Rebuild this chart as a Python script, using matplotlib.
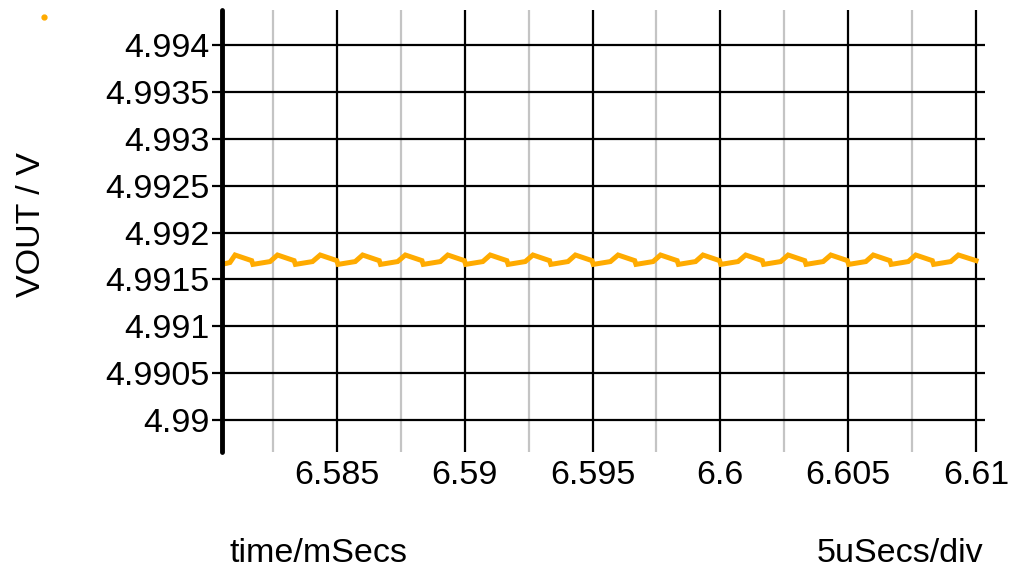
import matplotlib
matplotlib.use("Agg")
import matplotlib.pyplot as plt
from matplotlib.lines import Line2D
from matplotlib.transforms import Bbox, TransformedBbox

plt.rcParams['font.family'] = ['Liberation Sans', 'DejaVu Sans']

# VOUT ripple, vertices (time in ms, volts)
time_ms = [
    6.58051, 6.58082,
    6.58102, 6.58167, 6.58172, 6.58239,
    6.58268, 6.58333, 6.58338, 6.58405,
    6.58435, 6.58500, 6.58505, 6.58572,
    6.58601, 6.58666, 6.58671, 6.58738,
    6.58768, 6.58833, 6.58838, 6.58905,
    6.58934, 6.58999, 6.59004, 6.59071,
    6.59100, 6.59165, 6.59170, 6.59237,
    6.59267, 6.59332, 6.59337, 6.59404,
    6.59433, 6.59498, 6.59503, 6.59570,
    6.59600, 6.59665, 6.59670, 6.59737,
    6.59766, 6.59831, 6.59836, 6.59903,
    6.59932, 6.59997, 6.60002, 6.60069,
    6.60099, 6.60164, 6.60169, 6.60236,
    6.60265, 6.60330, 6.60335, 6.60402,
    6.60432, 6.60497, 6.60502, 6.60569,
    6.60598, 6.60663, 6.60668, 6.60735,
    6.60764, 6.60829, 6.60834, 6.60901,
    6.60931, 6.61000,
]
vout = [
    4.99166, 4.99168,
    4.99176, 4.99170, 4.99166, 4.99169,
    4.99176, 4.99170, 4.99166, 4.99169,
    4.99176, 4.99170, 4.99166, 4.99169,
    4.99176, 4.99170, 4.99166, 4.99169,
    4.99176, 4.99170, 4.99166, 4.99169,
    4.99176, 4.99170, 4.99166, 4.99169,
    4.99176, 4.99170, 4.99166, 4.99169,
    4.99176, 4.99170, 4.99166, 4.99169,
    4.99176, 4.99170, 4.99166, 4.99169,
    4.99176, 4.99170, 4.99166, 4.99169,
    4.99176, 4.99170, 4.99166, 4.99169,
    4.99176, 4.99170, 4.99166, 4.99169,
    4.99176, 4.99170, 4.99166, 4.99169,
    4.99176, 4.99170, 4.99166, 4.99169,
    4.99176, 4.99170, 4.99166, 4.99169,
    4.99176, 4.99170, 4.99166, 4.99169,
    4.99176, 4.99170, 4.99166, 4.99169,
    4.99176, 4.99170,
]

x_major = [6.585, 6.59, 6.595, 6.6, 6.605, 6.61]
x_labels = ['6.585', '6.59', '6.595', '6.6', '6.605', '6.61']
x_minor = [6.5825, 6.5875, 6.5925, 6.5975, 6.6025, 6.6075]
y_major = [4.99, 4.9905, 4.991, 4.9915, 4.992, 4.9925, 4.993, 4.9935, 4.994]
y_labels = ['4.99', '4.9905', '4.991', '4.9915', '4.992', '4.9925', '4.993', '4.9935', '4.994']

W, H = 1011, 572
fig = plt.figure(figsize=(W / 100, H / 100), dpi=100)
ax = fig.add_axes([222 / W, 120 / H, (985 - 222) / W, (452 - 10) / H])

ax.set_xlim(6.58051, 6.61035)
ax.set_ylim(4.989659, 4.994373)

for xv in x_minor:
    ax.axvline(xv, color='#c4c4c4', lw=1.6, zorder=1)
for xv in x_major:
    ax.axvline(xv, color='black', lw=1.6, zorder=1)
for yv in y_major:
    ax.axhline(yv, color='black', lw=1.6, zorder=1)

ax.plot(time_ms, vout, color='#ffab00', lw=3.6, solid_joinstyle='miter', zorder=3)

ax.set_xticks(x_major)
ax.set_xticklabels(x_labels)
ax.set_yticks(y_major)
ax.set_yticklabels(y_labels)
ax.tick_params(axis='x', length=0, pad=6, labelsize=24.5)
ax.tick_params(axis='y', length=7, width=1.6, pad=2, labelsize=24.5)

for s in ['top', 'right', 'bottom']:
    ax.spines[s].set_visible(False)
ax.spines['left'].set_linewidth(3.5)
ax.spines['left'].set_capstyle('round')
ax.spines['left'].set_zorder(4)

fig.text(32 / W, 1 - 225 / H, 'VOUT / V', rotation=90, ha='center', va='center', fontsize=24.5)
fig.text(318 / W, 1 - 553 / H, 'time/mSecs', ha='center', va='center', fontsize=24.5)
per_div = fig.text(817 / W, 1 - 553 / H, '5uSecs/div', ha='left', va='center', fontsize=24.5)
per_div.set_clip_box(TransformedBbox(Bbox([[0, 0], [984 / W, 1]]), fig.transFigure))
per_div.set_clip_on(True)

fig.add_artist(Line2D([44 / W], [1 - 17 / H], marker='o', markersize=3.5,
                      color='#ffab00', linestyle='none', transform=fig.transFigure))

fig.savefig('out.png', dpi=100)
